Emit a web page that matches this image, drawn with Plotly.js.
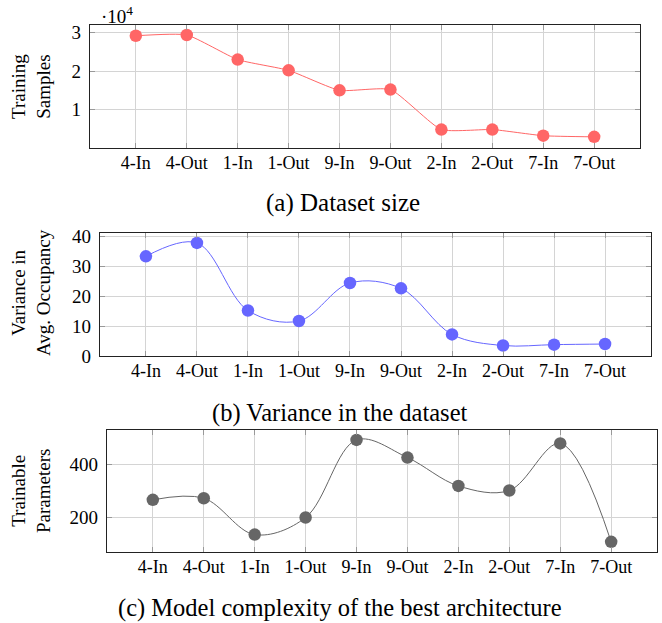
<!DOCTYPE html>
<html>
<head>
<meta charset="utf-8">
<script src="https://cdn.plot.ly/plotly-3.0.1.min.js"></script>
<style>html,body{margin:0;padding:0;background:#fff;}#chart{width:662px;height:623px;}</style>
</head>
<body>
<div id="chart"></div>
<script>
const categories = ['4-In','4-Out','1-In','1-Out','9-In','9-Out','2-In','2-Out','7-In','7-Out'];
const trainingSamples = [29200, 29400, 23000, 20200, 15000, 15200, 4800, 4800, 3200, 2900];
const varianceOccupancy = [33.3, 37.8, 15.2, 11.7, 24.4, 22.6, 7.2, 3.5, 3.8, 4.0];
const trainableParams = [267, 273, 137, 201, 491, 425, 319, 302, 478, 110];
const sampleTickVals = [10000, 20000, 30000];
const sampleTickText = ['1', '2', '3'];
const varianceTickVals = [0, 10, 20, 30, 40];
const paramTickVals = [200, 400];

const W = 662, H = 623;
const FONT = '"Liberation Serif", "DejaVu Serif", serif';
const px = v => v / W;
const py = v => 1 - v / H;

function trace(y, color, xa, ya, smoothing) {
  return {
    x: categories, y: y, xaxis: xa, yaxis: ya, type: 'scatter', mode: 'lines+markers',
    line: {color: color, width: 1, shape: 'spline', smoothing: smoothing},
    marker: {color: color, size: 12.5},
    cliponaxis: false, showlegend: false, hoverinfo: 'skip'
  };
}

function xax(l, r, anchor) {
  return {
    domain: [px(l), px(r)], anchor: anchor, type: 'category', range: [-0.9, 9.9],
    showgrid: true, gridcolor: '#d4d4d4', gridwidth: 1,
    showline: true, linecolor: '#222', linewidth: 1.2, mirror: 'ticks',
    ticks: 'inside', ticklen: 5, tickcolor: '#999', tickwidth: 1,
    tickfont: {family: FONT, size: 18, color: '#000'}, zeroline: false,
    ticklabelstandoff: -2
  };
}
function yax(t, b, anchor, range, tickvals, ticktext) {
  const o = {
    domain: [py(b), py(t)], anchor: anchor, range: range,
    tickmode: 'array', tickvals: tickvals,
    showgrid: true, gridcolor: '#d4d4d4', gridwidth: 1,
    showline: true, linecolor: '#222', linewidth: 1.2, mirror: 'ticks',
    ticks: 'inside', ticklen: 5, tickcolor: '#999', tickwidth: 1,
    tickfont: {family: FONT, size: 19, color: '#000'}, zeroline: false,
    ticklabelstandoff: 4
  };
  if (ticktext) o.ticktext = ticktext;
  return o;
}

const data = [
  trace(trainingSamples, '#ff6666', 'x', 'y', 0.5),
  trace(varianceOccupancy, '#6666ff', 'x2', 'y2', 1.0),
  trace(trainableParams, '#666666', 'x3', 'y3', 1.0)
];

function ann(text, x, y, size, angle) {
  return {text: text, xref: 'paper', yref: 'paper', x: px(x), y: py(y),
    xanchor: 'center', yanchor: 'middle', showarrow: false, textangle: angle || 0,
    font: {family: FONT, size: size, color: '#000'}};
}

const layout = {
  width: W, height: H, margin: {l: 0, r: 0, t: 0, b: 0},
  paper_bgcolor: '#fff', plot_bgcolor: '#fff',
  xaxis: xax(90, 640, 'y'),
  yaxis: yax(25, 148, 'x', [0, 32000], sampleTickVals, sampleTickText),
  xaxis2: xax(100, 651, 'y2'),
  yaxis2: yax(233, 356, 'x2', [0, 41.1], varianceTickVals),
  xaxis3: xax(107, 657, 'y3'),
  yaxis3: yax(430, 552, 'x3', [72, 528], paramTickVals),
  annotations: [
    ann('·10<sup>4</sup>', 117, 15, 19),
    ann('Training<br>Samples', 31, 87, 19, -90),
    ann('Variance in<br>Avg. Occupancy', 31, 293, 19, -90),
    ann('Trainable<br>Parameters', 31, 491, 19, -90),
    ann('(a) Dataset size', 343, 203, 25),
    ann('(b) Variance in the dataset', 339.5, 413, 24.5),
    ann('(c) Model complexity of the best architecture', 339.5, 608, 24.5)
  ]
};

Plotly.newPlot('chart', data, layout, {staticPlot: true, displayModeBar: false});
</script>
</body>
</html>
